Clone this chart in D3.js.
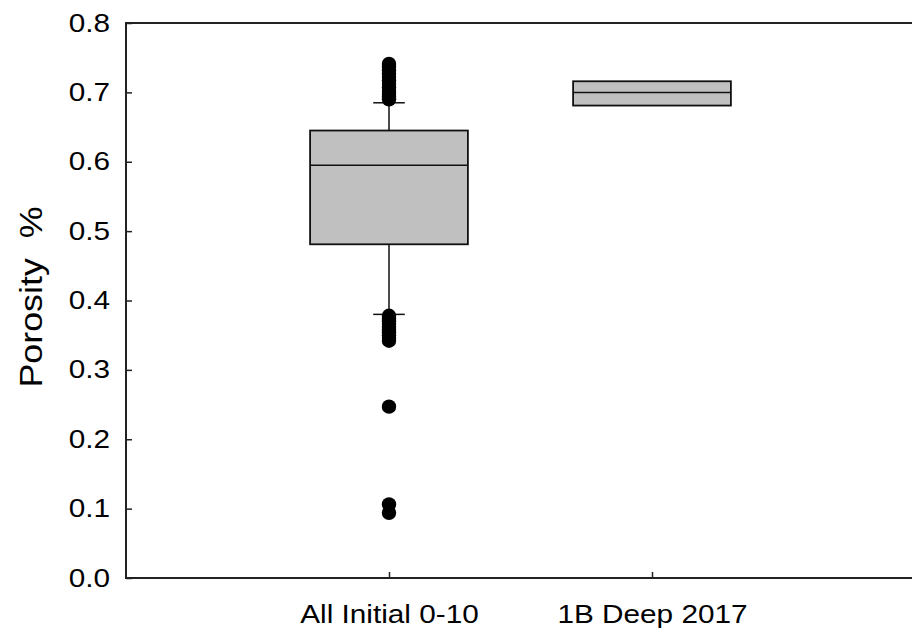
<!DOCTYPE html>
<meta charset="utf-8">
<style>
body { margin: 0; background: #fff; }
svg { font-family: "Liberation Sans", Arial, sans-serif; }
.axis path, .axis line { stroke: #222; stroke-width: 1.5px; }
.axis text { font-size: 25px; fill: #000; transform-box: fill-box; }
.y.axis text { transform-origin: right center; transform: scaleX(1.19); }
.x.axis text { transform-origin: center; transform: scaleX(1.19); }
.frame { fill: none; stroke: #222; stroke-width: 2px; }
.box { fill: #c0c0c0; stroke: #111; stroke-width: 1.8px; }
.whisk { stroke: #111; stroke-width: 1.5px; }
.out { fill: #000; }
</style>
<svg id="chart" width="912" height="628"></svg>
<script src="https://d3js.org/d3.v7.min.js"></script>
<script>
// categories + box stats
var groups = ["All Initial 0-10", "1B Deep 2017"];
var q1 = [0.481, 0.681];
var median = [0.595, 0.700];
var q3 = [0.645, 0.716];
var whiskLo = [0.380, null];
var whiskHi = [0.685, null];
// outliers for the first group only
var outliers = [
  [0.741, 0.737, 0.732, 0.727, 0.722, 0.717, 0.712, 0.707, 0.702, 0.698, 0.694, 0.690,
   0.378, 0.374, 0.370, 0.366, 0.362, 0.358, 0.354, 0.350, 0.346, 0.342,
   0.247, 0.106, 0.094],
  []
];
var yTicks = [0, 0.1, 0.2, 0.3, 0.4, 0.5, 0.6, 0.7, 0.8];

var svg = d3.select("#chart");
var plotL = 126, plotR = 915, plotT = 23, plotB = 578;

var x = d3.scalePoint().domain(groups).range([plotL, plotR]).padding(1);
var y = d3.scaleLinear().domain([0, 0.8]).range([plotB, plotT]);
var step = x.step();
var boxW = step * 0.6, capW = step * 0.12;

svg.append("rect").attr("class", "frame")
    .attr("x", plotL).attr("y", plotT)
    .attr("width", plotR - plotL).attr("height", plotB - plotT);

svg.append("g").attr("class", "y axis")
    .attr("transform", "translate(" + plotL + ",0)")
    .call(d3.axisLeft(y).tickValues(yTicks).tickFormat(d3.format(".1f"))
      .tickSizeInner(-6).tickSizeOuter(0).tickPadding(16))
    .call(function(g) { g.select(".domain").remove(); });

svg.append("g").attr("class", "x axis")
    .attr("transform", "translate(0," + plotB + ")")
    .call(d3.axisBottom(x).tickSizeInner(-6).tickSizeOuter(0).tickPadding(27))
    .call(function(g) { g.select(".domain").remove(); });

svg.append("text")
    .attr("transform", "translate(42,297) rotate(-90) scale(1.12,1)")
    .attr("text-anchor", "middle")
    .style("font-size", "32px")
    .style("white-space", "pre")
    .text("Porosity  %");

var g = svg.append("g");
groups.forEach(function(name, i) {
  var cx = x(name);
  if (whiskHi[i] != null) {
    g.append("line").attr("class", "whisk")
        .attr("x1", cx).attr("x2", cx).attr("y1", y(q3[i])).attr("y2", y(whiskHi[i]));
    g.append("line").attr("class", "whisk")
        .attr("x1", cx - capW / 2).attr("x2", cx + capW / 2).attr("y1", y(whiskHi[i])).attr("y2", y(whiskHi[i]));
  }
  if (whiskLo[i] != null) {
    g.append("line").attr("class", "whisk")
        .attr("x1", cx).attr("x2", cx).attr("y1", y(q1[i])).attr("y2", y(whiskLo[i]));
    g.append("line").attr("class", "whisk")
        .attr("x1", cx - capW / 2).attr("x2", cx + capW / 2).attr("y1", y(whiskLo[i])).attr("y2", y(whiskLo[i]));
  }
  g.append("rect").attr("class", "box")
      .attr("x", cx - boxW / 2).attr("width", boxW)
      .attr("y", y(q3[i])).attr("height", y(q1[i]) - y(q3[i]));
  g.append("line").attr("class", "whisk")
      .attr("x1", cx - boxW / 2).attr("x2", cx + boxW / 2)
      .attr("y1", y(median[i])).attr("y2", y(median[i]));
  g.selectAll(null).data(outliers[i]).enter().append("circle")
      .attr("class", "out")
      .attr("cx", cx).attr("cy", function(d) { return y(d); })
      .attr("r", 7.2);
});
</script>
